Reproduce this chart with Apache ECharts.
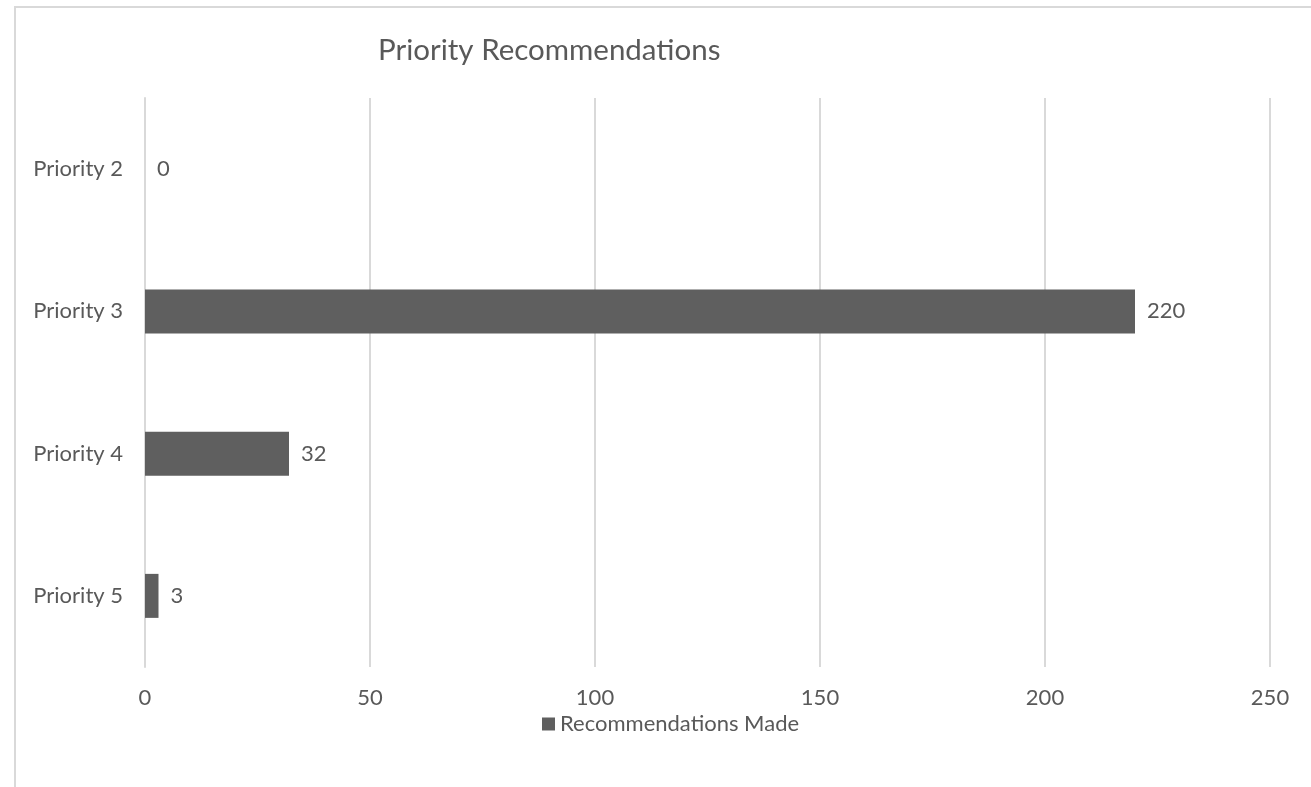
<!DOCTYPE html>
<html>
<head>
<meta charset="utf-8">
<script src="https://cdn.jsdelivr.net/npm/echarts@6/dist/echarts.min.js"></script>
<style>
  html, body { margin: 0; padding: 0; background: #fff; overflow: hidden; }
  .frame { position: absolute; left: 14px; top: 6px; width: 1320px; height: 800px; border: 2px solid #d9d9d9; box-sizing: border-box; }
  #chart { position: absolute; left: 0; top: 0; width: 1311px; height: 787px; }
</style>
</head>
<body>
<div class="frame"></div>
<div id="chart"></div>
<script>
  // chart values
  const categories = ["Priority 2", "Priority 3", "Priority 4", "Priority 5"];
  const recommendations = [0, 220, 32, 3];
  const seriesName = "Recommendations Made";

  const textColor = "#595959";
  const font = "Lato, 'Open Sans', sans-serif";

  let myChart = echarts.init(document.getElementById("chart"));
  let options = {
    animation: false,
    textStyle: { fontFamily: font },
    title: {
      text: "Priority Recommendations",
      left: 373,
      top: 30,
      textStyle: { color: textColor, fontSize: 29.5, fontWeight: "normal", fontFamily: font },
    },
    legend: {
      data: [seriesName],
      left: 537,
      top: 708,
      icon: "rect",
      itemWidth: 13,
      itemHeight: 13,
      itemGap: 5,
      textStyle: { color: textColor, fontSize: 22, fontFamily: font },
    },
    grid: {
      top: 98,
      left: 145,
      right: 41,
      bottom: 120,
    },
    xAxis: {
      type: "value",
      min: 0,
      max: 250,
      interval: 50,
      axisLine: { show: false },
      axisTick: { show: false },
      axisLabel: { color: textColor, fontSize: 22, margin: 20, fontFamily: font },
      splitLine: { lineStyle: { color: "#d9d9d9", width: 2 } },
    },
    yAxis: {
      type: "category",
      data: categories,
      inverse: true,
      axisLine: { show: true, lineStyle: { color: "#d9d9d9", width: 2 } },
      axisTick: { show: false },
      axisLabel: { color: textColor, fontSize: 22, margin: 22, fontFamily: font },
    },
    series: [
      {
        name: seriesName,
        type: "bar",
        data: recommendations,
        barWidth: 44,
        itemStyle: { color: "#5f5f5f" },
        label: {
          show: true,
          position: "right",
          distance: 12,
          color: textColor,
          fontSize: 22,
          fontFamily: font,
        },
      },
    ],
  };
  myChart.setOption(options, true);
</script>
</body>
</html>
